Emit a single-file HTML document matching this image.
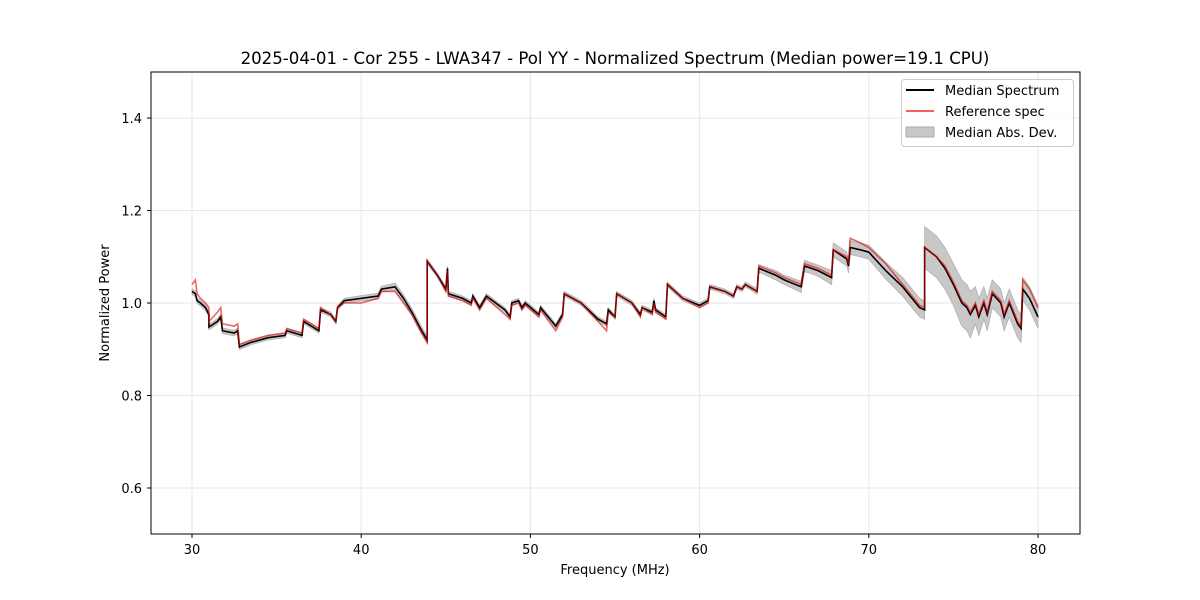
<!DOCTYPE html>
<html><head><meta charset="utf-8"><style>
body{margin:0;background:#fff;}
svg{display:block;font-family:"DejaVu Sans","Liberation Sans",sans-serif;}
</style></head><body>
<svg id="chart" width="1200" height="600">
<rect width="1200" height="600" fill="#fff"/>
<text x="615" y="64" text-anchor="middle" font-size="16.6">2025-04-01 - Cor 255 - LWA347 - Pol YY - Normalized Spectrum (Median power=19.1 CPU)</text>
<g id="grid"></g>
<g id="plot"></g>
<rect x="151" y="72" width="929" height="462" fill="none" stroke="#000" stroke-width="1"/>
<g id="ticks"></g>
<text x="615" y="574" text-anchor="middle" font-size="13">Frequency (MHz)</text>
<text x="109" y="303" text-anchor="middle" font-size="13" transform="rotate(-90 109 303)">Normalized Power</text>
<g>
<rect x="901.5" y="79.5" width="172" height="67" rx="3" fill="#fff" fill-opacity="0.8" stroke="#ccc"/>
<g><line x1="906" y1="90" x2="934" y2="90" stroke="#000" stroke-width="2"/><text x="945" y="95" font-size="13">Median Spectrum</text></g>
<g><line x1="906" y1="111" x2="934" y2="111" stroke="#f06060" stroke-width="2"/><text x="945" y="116" font-size="13">Reference spec</text></g>
<g><rect x="906" y="127" width="28" height="10" fill="#c8c8c8" stroke="#aaa"/><text x="945" y="137" font-size="13">Median Abs. Dev.</text></g>
</g>
</svg>
<script>
const freqs=[30.0,30.2,30.3,30.5,30.8,31.0,31.0,31.5,31.7,31.8,32.5,32.7,32.8,33.5,34.5,35.5,35.6,36.5,36.6,37.5,37.6,38.2,38.5,38.6,39.0,40.0,41.0,41.2,42.0,42.5,43.0,43.5,43.9,43.9,44.5,45.0,45.1,45.15,46.0,46.5,46.6,47.0,47.4,48.5,48.8,48.9,49.3,49.5,49.7,50.5,50.6,51.5,51.9,52.0,53.0,54.0,54.5,54.6,55.0,55.1,56.0,56.5,56.6,57.2,57.3,57.4,58.0,58.1,59.0,60.0,60.5,60.6,61.5,62.0,62.2,62.5,62.7,63.4,63.5,64.5,65.0,66.0,66.2,67.0,67.8,67.9,68.7,68.8,68.9,69.5,70.0,71.0,72.0,73.0,73.3,73.3,74.0,74.5,75.0,75.5,75.8,76.0,76.3,76.5,76.8,77.0,77.3,77.8,78.0,78.3,78.8,79.0,79.1,79.5,80.0];
const median=[1.025,1.02,1.005,1.0,0.99,0.975,0.948,0.96,0.97,0.94,0.935,0.94,0.905,0.915,0.925,0.93,0.94,0.93,0.96,0.94,0.985,0.975,0.96,0.99,1.005,1.01,1.015,1.03,1.035,1.01,0.98,0.945,0.92,1.09,1.06,1.03,1.075,1.02,1.01,1.0,1.015,0.99,1.015,0.985,0.97,1.0,1.005,0.99,1.0,0.975,0.99,0.95,0.975,1.02,1.0,0.965,0.955,0.985,0.97,1.02,1.0,0.975,0.99,0.98,1.005,0.985,0.97,1.04,1.01,0.995,1.005,1.035,1.025,1.015,1.035,1.03,1.04,1.025,1.075,1.06,1.05,1.035,1.08,1.07,1.055,1.115,1.095,1.08,1.12,1.115,1.11,1.07,1.035,0.99,0.985,1.12,1.10,1.075,1.04,1.0,0.99,0.975,0.995,0.97,1.0,0.975,1.02,1.0,0.97,1.0,0.955,0.945,1.03,1.01,0.97];
const reference=[1.04,1.05,1.02,1.01,1.0,0.99,0.96,0.98,0.99,0.955,0.95,0.955,0.91,0.92,0.93,0.935,0.945,0.935,0.965,0.945,0.99,0.975,0.96,0.99,1.0,1.0,1.01,1.025,1.025,1.0,0.975,0.94,0.915,1.09,1.06,1.025,1.07,1.015,1.005,0.995,1.01,0.985,1.01,0.975,0.965,0.995,1.0,0.985,0.995,0.97,0.985,0.94,0.97,1.02,1.0,0.96,0.94,0.98,0.97,1.02,1.0,0.97,0.99,0.975,1.0,0.98,0.965,1.04,1.01,0.99,1.0,1.035,1.025,1.015,1.035,1.03,1.04,1.025,1.08,1.065,1.055,1.04,1.085,1.075,1.06,1.115,1.1,1.085,1.14,1.13,1.12,1.085,1.04,0.995,0.99,1.12,1.10,1.08,1.045,1.005,0.995,0.98,1.0,0.975,1.005,0.98,1.025,1.005,0.975,1.005,0.96,0.95,1.05,1.03,0.99];
const mad=[.006,.006,.006,.006,.006,.006,.006,.006,.006,.006,.006,.006,.006,.005,.005,.005,.005,.005,.005,.005,.005,.005,.005,.005,.005,.006,.006,.006,.008,.008,.008,.008,.008,.005,.005,.005,.005,.005,.005,.005,.005,.005,.005,.005,.005,.005,.005,.005,.005,.005,.005,.005,.005,.005,.005,.005,.005,.005,.005,.005,.005,.005,.005,.005,.005,.005,.005,.005,.005,.005,.005,.005,.005,.005,.005,.005,.005,.006,.008,.01,.01,.012,.012,.012,.015,.015,.015,.015,.015,.015,.015,.018,.02,.02,.02,.045,.045,.045,.045,.05,.05,.05,.04,.04,.035,.035,.03,.03,.03,.03,.03,.03,.025,.025,.025];
const xTicks=[30,40,50,60,70,80];
const yTicks=[0.6,0.8,1.0,1.2,1.4];
const yTickLabels=["0.6","0.8","1.0","1.2","1.4"];

const NS="http://www.w3.org/2000/svg";
const X=f=>192+(f-30)*(846/50);
const Y=v=>488-(v-0.6)*(370/0.8);
function mk(tag,attrs,parent){const e=document.createElementNS(NS,tag);for(const k in attrs)e.setAttribute(k,attrs[k]);parent.appendChild(e);return e;}
const grid=document.getElementById('grid'),plot=document.getElementById('plot'),ticks=document.getElementById('ticks');
xTicks.forEach(t=>{
 const g=mk('line',{x1:X(t),x2:X(t),y1:72,y2:534,stroke:'#e6e6e6','stroke-width':1},grid);
 
 
 mk('line',{x1:X(t),x2:X(t),y1:534,y2:538,stroke:'#000'},ticks);
 const tx=mk('text',{x:X(t),y:554,'text-anchor':'middle','font-size':13},ticks);
 tx.textContent=String(t);
 
 
});
yTicks.forEach((t,i)=>{
 const g=mk('line',{x1:151,x2:1080,y1:Y(t),y2:Y(t),stroke:'#e6e6e6','stroke-width':1},grid);
 
 
 mk('line',{x1:147,x2:151,y1:Y(t),y2:Y(t),stroke:'#000'},ticks);
 const tx=mk('text',{x:142,y:Y(t)+5,'text-anchor':'end','font-size':13},ticks);
 tx.textContent=yTickLabels[i];
 
 
});
let up=freqs.map((f,i)=>X(f)+','+Y(median[i]+mad[i]));
let dn=freqs.map((f,i)=>X(f)+','+Y(median[i]-mad[i])).reverse();
const band=mk('polygon',{points:up.concat(dn).join(' '),fill:'#c8c8c8',stroke:'#b0b0b0','stroke-width':0.8},plot);


const ml=mk('polyline',{points:freqs.map((f,i)=>X(f)+','+Y(median[i])).join(' '),fill:'none',stroke:'#000','stroke-width':1.6},plot);


const rl=mk('polyline',{points:freqs.map((f,i)=>X(f)+','+Y(reference[i])).join(' '),fill:'none',stroke:'#e00000','stroke-opacity':0.6,'stroke-width':1.6},plot);


</script>
</body></html>
